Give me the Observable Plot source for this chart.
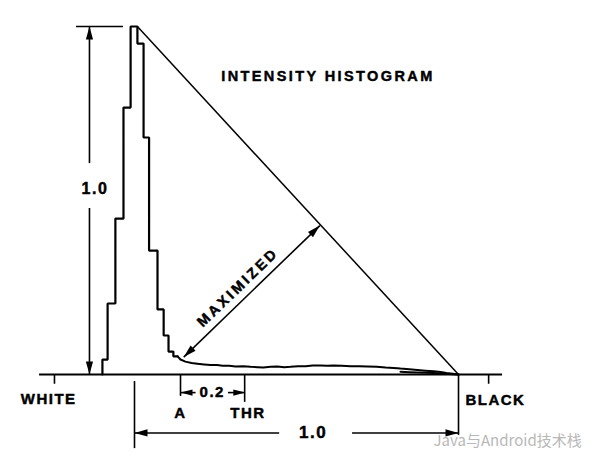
<!DOCTYPE html>
<html><head><meta charset="utf-8">
<script src="https://cdn.jsdelivr.net/npm/d3@7"></script>
<script src="https://cdn.jsdelivr.net/npm/@observablehq/plot@0.6"></script>
<style>body{margin:0;background:#fff}</style>
</head><body><div id="chart"></div>
<script>
// ---- data (intensity: 0 = histogram peak, 1 = black end; frequency relative to peak) ----
const binEdges   = [-0.099,-0.083,-0.059,-0.034,-0.012,0.009,0.028,0.045,0.071,0.090,0.105,0.120,0.133];
const binHeights = [0.043,0.204,0.448,0.767,1.000,0.951,0.681,0.356,0.187,0.112,0.066,0.052];
const tailX = [0.133,0.142,0.157,0.176,0.194,0.215,0.235,0.255,0.272,0.292,0.312,0.335,0.358,0.380,0.398,0.420,0.441,0.462,0.481,0.505,0.528,0.550,0.574,0.595,0.614,0.640,0.667,0.693,0.719,0.748,0.775,0.800,0.821,0.848,0.873,0.898,0.923,0.945,0.963,0.983,1.000];
const tailY = [0.052,0.043,0.037,0.033,0.031,0.029,0.027,0.027,0.025,0.025,0.023,0.024,0.022,0.021,0.020,0.022,0.023,0.021,0.022,0.024,0.024,0.026,0.026,0.025,0.026,0.025,0.024,0.024,0.023,0.022,0.020,0.019,0.017,0.015,0.013,0.011,0.009,0.007,0.004,0.002,0.000];
const tickNames = ["WHITE","BLACK","A","THR"];
const tickPos   = [-0.247, 1.093, 0.142, 0.340];
const labelPos  = [-0.265, 1.114, 0.142, 0.350];
const peakValue = 1.0;
const spanValue = 1.0;
const thrOffset = 0.2;
const titleText = "INTENSITY HISTOGRAM";
const maxLabel = "MAXIMIZED";
const watermark = "Java与Android技术栈";

// ---- scales ----
const xDomain = [0, 1], xRange = [134, 458];
const yDomain = [0, 1], yRange = [374, 26];
const xs = d3.scaleLinear(xDomain, xRange);
const ys = d3.scaleLinear(yDomain, yRange);

// step outline of histogram
const steps = [{x: binEdges[0], y: 0}];
binHeights.forEach((h, i) => steps.push({x: binEdges[i], y: h}));
steps.push({x: binEdges[binEdges.length - 1], y: binHeights[binHeights.length - 1]});
const tail = tailX.map((x, i) => ({x, y: tailY[i]}));

// arrowhead symbol (tip at origin, pointing at screen angle in degrees)
function head(angleDeg, L = 13, W = 3.6) {
  const a = angleDeg * Math.PI / 180, ux = Math.cos(a), uy = Math.sin(a);
  return {draw(ctx) {
    ctx.moveTo(0, 0);
    ctx.lineTo(-L * ux - W * uy, -L * uy + W * ux);
    ctx.lineTo(-L * ux + W * uy, -L * uy - W * ux);
    ctx.closePath();
  }};
}
const arrowhead = (x, y, ang, L, W) => Plot.dot([{x, y}], {x: "x", y: "y", r: 4, symbol: head(ang, L, W), fill: "black", stroke: "none"});

// MAXIMIZED arrow endpoints
const mA = {x: 0.152, y: 0.050}, mB = {x: 0.572, y: 0.428};
const mAng = Math.atan2(ys(mB.y) - ys(mA.y), xs(mB.x) - xs(mA.x)) * 180 / Math.PI;

const peakRight = binEdges[5];
const lw = 1.6;
const bottomY = -0.168, twoY = -0.052, vArrowX = -0.139;
const ink = {fontWeight: "bold", fill: "black", stroke: "black", strokeWidth: 0.45};

const plot = Plot.plot({
  width: 600, height: 468, margin: 0,
  style: {fontFamily: "'Liberation Sans', Arial, sans-serif", background: "#fff", color: "black"},
  x: {domain: xDomain, range: xRange, axis: null},
  y: {domain: yDomain, range: yRange, axis: null},
  marks: [
    // baseline
    Plot.ruleY([0], {x1: -0.293, x2: 1.136, strokeWidth: 2.2}),
    // ticks below baseline
    Plot.ruleX([tickPos[0], tickPos[1]], {y1: 0, y2: -0.028, strokeWidth: lw}),
    Plot.ruleX([tickPos[2]], {y1: 0, y2: -0.063, strokeWidth: lw}),
    Plot.ruleX([tickPos[3]], {y1: 0, y2: -0.080, strokeWidth: lw}),
    // histogram
    Plot.line(steps, {x: "x", y: "y", curve: "step-after", strokeWidth: 2.2, strokeLinejoin: "miter"}),
    Plot.line(tail, {x: "x", y: "y", curve: "linear", strokeWidth: 2}),
    Plot.line(tail.filter(d => d.x > 0.82), {x: "x", y: d => d.y * 0.45, strokeWidth: 2}),
    // diagonal from peak to black end
    Plot.link([0], {x1: peakRight, y1: peakValue, x2: spanValue, y2: 0, strokeWidth: 1.5}),
    // vertical 1.0 arrow
    Plot.ruleY([peakValue], {x1: -0.179, x2: -0.034, strokeWidth: lw}),
    Plot.ruleX([vArrowX], {y1: peakValue, y2: 0.606, strokeWidth: lw}),
    Plot.ruleX([vArrowX], {y1: 0.477, y2: 0, strokeWidth: lw}),
    arrowhead(vArrowX, peakValue, -90),
    arrowhead(vArrowX, 0, 90),
    Plot.text(["1.0"], {x: -0.122, y: 0.534, fontSize: 16, ...ink}),
    // bottom 1.0 span
    Plot.ruleX([0], {y1: -0.020, y2: -0.213, strokeWidth: lw}),
    Plot.ruleX([spanValue], {y1: 0, y2: -0.175, strokeWidth: lw}),
    Plot.ruleY([bottomY], {x1: 0, x2: 0.448, strokeWidth: lw}),
    Plot.ruleY([bottomY], {x1: 0.673, x2: spanValue, strokeWidth: lw}),
    arrowhead(0, bottomY, 180),
    arrowhead(spanValue, bottomY, 0),
    Plot.text(["1.0"], {x: 0.551, y: -0.167, fontSize: 17, ...ink}),
    // 0.2 offset A -> THR
    Plot.ruleY([twoY], {x1: tickPos[2], x2: 0.19, strokeWidth: lw}),
    Plot.ruleY([twoY], {x1: 0.29, x2: tickPos[2] + thrOffset, strokeWidth: lw}),
    arrowhead(tickPos[2], twoY, 180, 12, 3.2),
    arrowhead(tickPos[2] + thrOffset, twoY, 0, 12, 3.2),
    Plot.text(["0.2"], {x: 0.24, y: twoY, fontSize: 15, ...ink}),
    // tick labels
    Plot.text(tickNames, {x: (d, i) => labelPos[i], y: (d, i) => [-0.072, -0.075, -0.112, -0.112][i], text: d => d, fontSize: 15, ...ink}),
    // MAXIMIZED arrow
    Plot.link([0], {x1: mA.x, y1: mA.y, x2: mB.x, y2: mB.y, strokeWidth: lw}),
    arrowhead(mB.x, mB.y, mAng),
    arrowhead(mA.x, mA.y, mAng + 180),
    Plot.text([maxLabel], {x: 0.319, y: 0.25, rotate: mAng, fontSize: 14.5, ...ink}),
    // title
    Plot.text([titleText], {x: 0.597, y: 0.856, fontSize: 14.5, ...ink}),
    // watermark
    Plot.text([watermark], {x: 0.923, y: -0.193, textAnchor: "start", fontSize: 15, fill: "#b8b8b8", fontFamily: "'Noto Sans CJK SC', sans-serif"})
  ]
});
// letter spacing of the hand-lettered labels
d3.select(plot).selectAll("text").each(function() {
  const t = this.textContent;
  let ls = "1.5px";
  if (t === titleText) ls = "2.4px";
  else if (t === maxLabel) ls = "2.8px";
  else if (t === watermark) ls = "0px";
  this.style.letterSpacing = ls;
});
document.getElementById("chart").appendChild(plot);
</script>
</body></html>
